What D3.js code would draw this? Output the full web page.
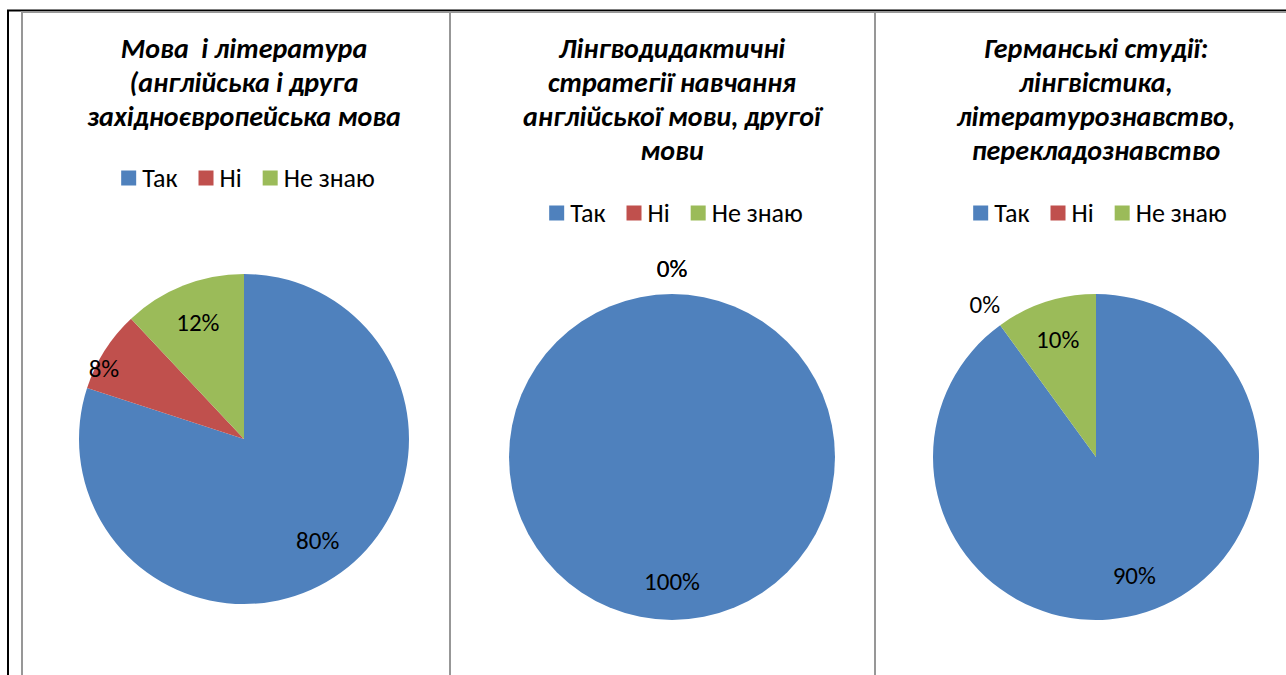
<!DOCTYPE html>
<html>
<head>
<meta charset="utf-8">
<script src="https://cdn.jsdelivr.net/npm/d3@7"></script>
<style>
  html, body { margin: 0; padding: 0; background: #fff; }
  svg { display: block; }
</style>
</head>
<body>
<svg id="chart" width="1286" height="675"></svg>
<script>
// ---- data ----
const categories = ["Так", "Ні", "Не знаю"];
const colors = ["#4F81BD", "#C0504D", "#9BBB59"];
const titles = [
  ["Мова\u00a0 і література", "(англійська і друга", "західноєвропейська мова"],
  ["Лінгводидактичні", "стратегії навчання", "англійської мови, другої", "мови"],
  ["Германські студії:", "лінгвістика,", "літературознавство,", "перекладознавство"]
];
const valuesLanguageLit = [80, 8, 12];
const valuesStrategies = [100, 0, 0];
const valuesGermanic = [90, 0, 10];
const seriesValues = [valuesLanguageLit, valuesStrategies, valuesGermanic];

// ---- layout ----
const svg = d3.select("#chart");
const FONT = "Carlito, Lato, 'Open Sans', sans-serif";

// outer frame lines
svg.append("line").attr("x1", 7).attr("x2", 1286).attr("y1", 10.5).attr("y2", 10.5)
  .attr("stroke", "#000").attr("stroke-width", 2);
svg.append("line").attr("x1", 8).attr("x2", 8).attr("y1", 10).attr("y2", 675)
  .attr("stroke", "#000").attr("stroke-width", 2);

const panels = [
  { x0: 22, x1: 450, cx: 244, cy: 439, r: 165, legendY: 178 },
  { x0: 450, x1: 875, cx: 672, cy: 457, r: 163, legendY: 213 },
  { x0: 875, x1: 1300, cx: 1096, cy: 457, r: 163, legendY: 213 }
];

panels.forEach((p, i) => {
  const g = svg.append("g");
  // chart area border
  g.append("rect")
    .attr("x", p.x0).attr("y", 12)
    .attr("width", p.x1 - p.x0).attr("height", 700)
    .attr("fill", "none").attr("stroke", "#979797").attr("stroke-width", 2);

  // title
  const title = g.append("text")
    .attr("text-anchor", "middle")
    .attr("font-family", FONT)
    .attr("font-weight", "bold").attr("font-style", "italic")
    .attr("font-size", 28).attr("fill", "#000");
  titles[i].forEach((line, k) => {
    title.append("tspan").attr("x", p.cx).attr("y", 58 + k * 34).text(line);
  });

  // legend
  const leg = g.append("g");
  let lx = 0;
  categories.forEach((c, k) => {
    const item = leg.append("g").attr("transform", `translate(${lx},0)`);
    item.append("rect").attr("x", 0).attr("y", -7.5).attr("width", 15).attr("height", 15)
      .attr("fill", colors[k]);
    const t = item.append("text").attr("x", 21).attr("y", 0).attr("dy", "0.35em")
      .attr("font-family", FONT).attr("font-size", 26).attr("fill", "#000").text(c);
    lx += 21 + t.node().getComputedTextLength() + 21;
  });
  const legW = lx - 21;
  leg.attr("transform", `translate(${p.cx + 4 - legW / 2},${p.legendY})`);

  // pie
  const data = seriesValues[i].map((v, k) => ({ v, k }));
  const pie = d3.pie().value(d => d.v).sort(null);
  const arcs = pie(data);
  const arc = d3.arc().innerRadius(0).outerRadius(p.r);
  const pg = g.append("g").attr("transform", `translate(${p.cx},${p.cy})`);
  pg.selectAll("path").data(arcs).join("path")
    .attr("d", arc)
    .attr("fill", d => colors[d.data.k]);

  const total = d3.sum(seriesValues[i]);
  pg.selectAll("text.lbl").data(arcs).join("text")
    .attr("class", "lbl")
    .attr("transform", d => {
      const frac = d.data.v / total;
      let f = 0.76;
      if (frac === 0) f = 1.16;
      else if (frac < 0.1) f = 0.95;
      const a = (d.startAngle + d.endAngle) / 2 - (frac < 0.1 && frac > 0 ? 0.1 : 0);
      return `translate(${Math.sin(a) * p.r * f},${-Math.cos(a) * p.r * f})`;
    })
    .attr("text-anchor", "middle").attr("dy", "0.35em")
    .attr("font-family", FONT).attr("font-size", 25).attr("fill", "#000")
    .text(d => Math.round(d.data.v / total * 100) + "%");
});
</script>
</body>
</html>
